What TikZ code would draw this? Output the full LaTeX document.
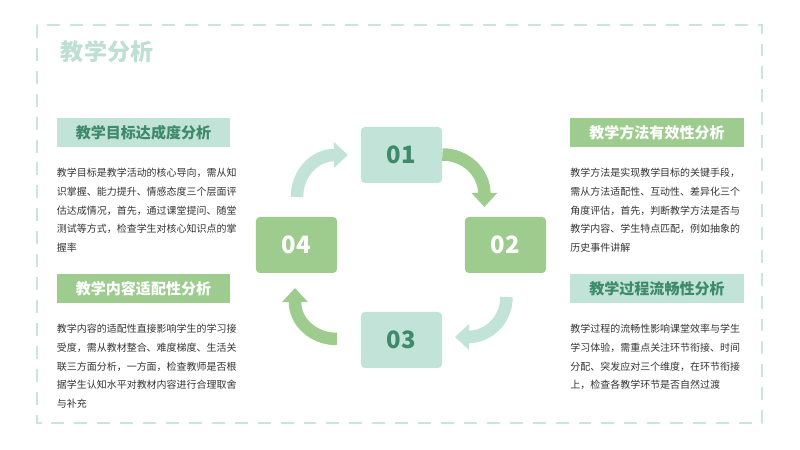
\documentclass[tikz,border=0pt]{standalone}
\usepackage{fontspec}
\setmainfont{Noto Sans CJK SC}
\usepackage{xcolor}
\usetikzlibrary{arrows.meta,positioning}

\definecolor{mintfill}{HTML}{C2E3D8}
\definecolor{leafgreen}{HTML}{9DCC8E}
\definecolor{pinegreen}{HTML}{3E8A6A}
\definecolor{titlemint}{HTML}{BEDFD3}
\definecolor{framemint}{HTML}{C9E5DD}
\definecolor{bodygray}{HTML}{333333}

\begin{document}
\begin{tikzpicture}[
  x=0.25mm, y=0.25mm,
  node distance=0.52cm,
  hdrmint/.style={fill=mintfill, minimum width=4.33cm, minimum height=0.73cm,
                  inner sep=0pt, text=pinegreen, font=\fontsize{10.7}{12}\selectfont\bfseries},
  hdrgreen/.style={hdrmint, fill=leafgreen, text=white},
  para/.style={align=left, inner sep=0pt, text=bodygray,
               font=\fontsize{7.1}{13.2}\selectfont},
  nummint/.style={fill=mintfill, rounded corners=1mm, minimum width=2.03cm,
                  minimum height=1.4cm, text=pinegreen,
                  font=\fontsize{17}{20}\selectfont\bfseries},
  numgreen/.style={nummint, fill=leafgreen, text=white},
  loop/.style={line width=8.9pt, -{Triangle[width=17.8pt,length=10pt]}}
]
\useasboundingbox (0,0) rectangle (800,450);
\draw[framemint, line width=2.1pt, dash pattern=on 9.2pt off 7.1pt] (37,425) rectangle (762,27);

\node[anchor=west, text=titlemint, font=\fontsize{16.4}{18}\selectfont\bfseries] (title) at (56,398) {教学分析};

% left column
\node[hdrmint]  (goal)    at (143.5,317.5) {教学目标达成度分析};
\node[para, below=of goal.south west, anchor=north west] (goaltxt)
  {教学目标是教学活动的核心导向，需从知\\识掌握、能力提升、情感态度三个层面评\\估达成情况，首先，通过课堂提问、随堂\\测试等方式，检查学生对核心知识点的掌\\握率};
\node[hdrgreen] (content) at (143.5,161.5) {教学内容适配性分析};
\node[para, below=of content.south west, anchor=north west] (contenttxt)
  {教学内容的适配性直接影响学生的学习接\\受度，需从教材整合、难度梯度、生活关\\联三方面分析，一方面，检查教师是否根\\据学生认知水平对教材内容进行合理取舍\\与补充};

% right column
\node[hdrgreen] (method)  at (657,317.5) {教学方法有效性分析};
\node[para, below=of method.south west, anchor=north west] (methodtxt)
  {教学方法是实现教学目标的关键手段，\\需从方法适配性、互动性、差异化三个\\角度评估，首先，判断教学方法是否与\\教学内容、学生特点匹配，例如抽象的\\历史事件讲解};
\node[hdrmint]  (process) at (657,161.5) {教学过程流畅性分析};
\node[para, below=of process.south west, anchor=north west] (processtxt)
  {教学过程的流畅性影响课堂效率与学生\\学习体验，需重点关注环节衔接、时间\\分配、突发应对三个维度，在环节衔接\\上，检查各教学环节是否自然过渡};

% cycle
\node[nummint]  (s1) at (401.5,295) {01};
\node[numgreen] (s2) at (505.5,205) {02};
\node[nummint]  (s3) at (401.5,110) {03};
\node[numgreen] (s4) at (296.5,205) {04};

\draw[loop, leafgreen] (s1.east |- 0,295.5) arc[start angle=90, end angle=0, x radius=42, y radius=39.5] -- ++(0,-13);
\draw[loop, mintfill] (506.5,153) arc[start angle=0, end angle=-90, x radius=38.5, y radius=40] -- ++(-13,0);
\draw[loop, leafgreen] (337,111) arc[start angle=-90, end angle=-180, x radius=42, y radius=37] -- ++(0,14);
\draw[loop, mintfill] (297,253) arc[start angle=180, end angle=90, x radius=38, y radius=42] -- ++(13,0);
\end{tikzpicture}
\end{document}
